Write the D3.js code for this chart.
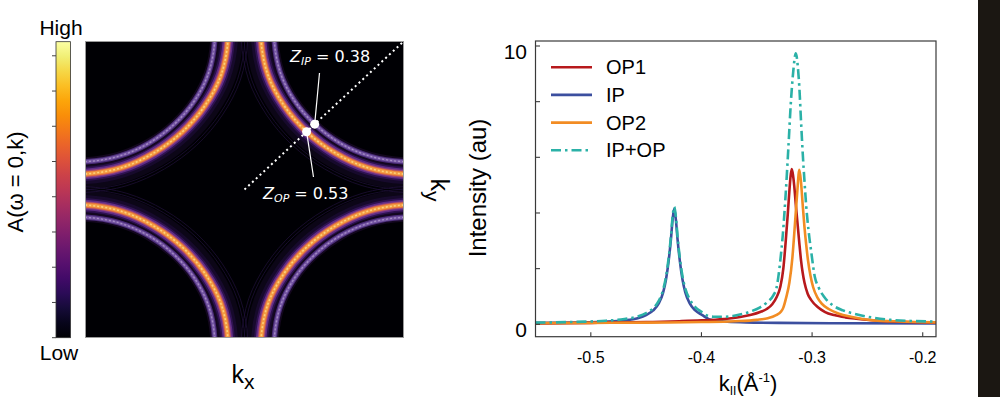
<!DOCTYPE html>
<html>
<head>
<meta charset="utf-8">
<script src="https://cdn.jsdelivr.net/npm/d3@7"></script>
<style>
  body { margin: 0; background: #fff; }
  svg { display: block; }
</style>
</head>
<body>
<div id="chart"></div>
<script>
// ---- left panel: A(w=0,k) map, Fermi surface arcs ----
// radius measured from each zone corner (k units, zone = [-1,1]) vs angle in degrees
const arcAngles = [-8, 0, 15, 30, 45, 60, 75, 90, 98];
const opRadius = [0.897, 0.895, 0.882, 0.867, 0.862, 0.867, 0.882, 0.895, 0.897];
const ipRadius = [0.815, 0.812, 0.803, 0.794, 0.790, 0.794, 0.803, 0.812, 0.815];
const tailRadiusA = [1.004, 1.002, 0.99, 0.976, 0.972, 0.976, 0.99, 1.002, 1.004];
const tailRadiusB = [1.022, 1.02, 1.008, 0.994, 0.99, 0.994, 1.008, 1.02, 1.022];
const corners = [[1, 1], [-1, 1], [-1, -1], [1, -1]];
const zMarks = [
  { name: 'IP', value: '0.38', band: 'ip' },
  { name: 'OP', value: '0.53', band: 'op' }
];
const colorbarTicks = [0, 1, 2, 3, 4, 5, 6, 7, 8];

// ---- right panel: intensity cut along the diagonal ----
const kIP = [-0.55, -0.52, -0.49, -0.4696, -0.4576, -0.4496, -0.4436, -0.4386, -0.4346, -0.4321, -0.4296, -0.4276, -0.4261, -0.4246,
  -0.4231, -0.4216, -0.4196, -0.4171, -0.4146, -0.4106, -0.4056, -0.3996, -0.3916, -0.3796, -0.36, -0.33, -0.28, -0.188];
const valIP = [0.05, 0.06, 0.09, 0.14, 0.22, 0.34, 0.50, 0.75, 1.15, 1.60, 2.30, 3.05, 3.75, 4.16,
  3.75, 3.05, 2.30, 1.60, 1.15, 0.75, 0.50, 0.34, 0.16, 0.10, 0.07, 0.05, 0.04, 0.035];

const kOP1 = [-0.55, -0.50, -0.45, -0.42, -0.40, -0.38, -0.365, -0.355, -0.347, -0.341, -0.336, -0.332, -0.3287, -0.326, -0.324, -0.322,
  -0.3205, -0.3195, -0.3184, -0.3172, -0.3162, -0.3145, -0.3131, -0.3115, -0.31, -0.3085, -0.3069, -0.304, -0.3006, -0.295, -0.2882,
  -0.28, -0.27, -0.2601, -0.24, -0.2134, -0.188];
const valOP1 = [0.03, 0.05, 0.08, 0.11, 0.14, 0.19, 0.26, 0.34, 0.44, 0.55, 0.72, 0.98, 1.35, 2.0, 2.9, 3.95,
  4.8, 5.3, 5.58, 5.35, 5.0, 4.2, 3.6, 2.9, 2.30, 1.85, 1.50, 1.10, 0.86, 0.62, 0.44,
  0.33, 0.25, 0.20, 0.13, 0.08, 0.06];

const kOP2 = [-0.55, -0.50, -0.45, -0.40, -0.37, -0.35, -0.34, -0.333, -0.328, -0.326, -0.3235, -0.3205, -0.3178, -0.3155, -0.3135,
  -0.3115, -0.31, -0.3085, -0.3069, -0.3053, -0.3037, -0.3015, -0.2991, -0.295, -0.2913, -0.285, -0.2757, -0.265, -0.2445, -0.22, -0.188];
const valOP2 = [0.04, 0.05, 0.06, 0.08, 0.11, 0.16, 0.22, 0.32, 0.46, 0.60, 0.95, 1.5, 2.4, 3.6, 4.7,
  5.55, 5.1, 4.3, 3.5, 2.85, 2.3, 1.75, 1.34, 0.95, 0.74, 0.55, 0.38, 0.27, 0.14, 0.10, 0.07];

const kSum = [-0.55, -0.52, -0.49, -0.4696, -0.4576, -0.4496, -0.4436, -0.4386, -0.4346, -0.4321, -0.4296, -0.4276, -0.4261, -0.4246,
  -0.4231, -0.4216, -0.4196, -0.4171, -0.4146, -0.4106, -0.4056, -0.3996, -0.395, -0.388, -0.38, -0.3715, -0.3565, -0.3474, -0.341,
  -0.3349, -0.3322, -0.3287, -0.3265, -0.324, -0.3215, -0.3193, -0.317, -0.3147, -0.313, -0.3115, -0.31, -0.3084, -0.3068, -0.3053,
  -0.303, -0.3006, -0.2975, -0.2944, -0.289, -0.2819, -0.272, -0.2601, -0.245, -0.229, -0.21, -0.188];
const valSum = [0.06, 0.08, 0.12, 0.19, 0.28, 0.41, 0.58, 0.84, 1.25, 1.70, 2.40, 3.15, 3.85, 4.22,
  3.85, 3.15, 2.40, 1.72, 1.28, 0.90, 0.62, 0.44, 0.32, 0.27, 0.27, 0.30, 0.45, 0.60, 0.78,
  1.05, 1.3, 2.3, 3.2, 4.6, 6.3, 7.9, 9.1, 9.74, 9.3, 8.5, 7.3, 6.1, 5.1, 4.25,
  3.3, 2.55, 1.7, 1.35, 0.98, 0.70, 0.50, 0.36, 0.24, 0.16, 0.12, 0.10];

const seriesNames = ['OP1', 'IP', 'OP2', 'IP+OP'];
const xTicks = [-0.5, -0.4, -0.3, -0.2];
const yTicks = [0, 2, 4, 6, 8, 10];
const yTickLabels = [0, 10];

const W = 1000, H = 397;
const sans = '"Liberation Sans", Arial, sans-serif';
const svg = d3.select('#chart').append('svg')
  .attr('width', W).attr('height', H)
  .style('font-family', sans);

// dark strip at the right edge of the figure
svg.append('rect').attr('x', 978).attr('y', 0).attr('width', 22).attr('height', H).attr('fill', '#1b1712');

// ================= left panel =================
const map = { left: 85.5, right: 403.5, top: 41.5, bottom: 337.5 };
const kx = d3.scaleLinear([-1, 1], [map.left, map.right]);
const ky = d3.scaleLinear([-1, 1], [map.bottom, map.top]);

svg.append('clipPath').attr('id', 'mapclip')
  .append('rect').attr('x', map.left).attr('y', map.top)
  .attr('width', map.right - map.left).attr('height', map.bottom - map.top);

svg.append('rect')
  .attr('x', map.left).attr('y', map.top)
  .attr('width', map.right - map.left).attr('height', map.bottom - map.top)
  .attr('fill', '#000004');

const gMap = svg.append('g').attr('clip-path', 'url(#mapclip)');

const arcPoints = (radii, c) => arcAngles.map((a, i) => {
  const t = a * Math.PI / 180;
  return [c[0] * (1 - radii[i] * Math.cos(t)), c[1] * (1 - radii[i] * Math.sin(t))];
});
const arcLine = d3.line().x(d => kx(d[0])).y(d => ky(d[1])).curve(d3.curveCatmullRom);

// layered strokes give the glow of each band
const bandLayers = {
  tail: [[1, '#1f1038', null, 0.75]],
  ip: [[9, '#13071f', null, 1], [5.5, '#4a2c78', null, 1], [3.2, '#7556a3', null, 1], [1.3, '#a68cc6', '2,2', 1]],
  op: [[30, '#0c0617', null, 1], [20, '#170a2c', null, 1], [14, '#2e1250', null, 1], [10.5, '#5f2c86', null, 1],
       [7.5, '#96457f', null, 1], [5.5, '#df6d3d', null, 1], [3.6, '#f39b42', null, 1], [1.6, '#fcd07a', '2,2', 1]]
};
const bandRadius = { tailA: tailRadiusA, tailB: tailRadiusB, ip: ipRadius, op: opRadius };

[['op', 'op'], ['tailA', 'tail'], ['tailB', 'tail'], ['ip', 'ip']].forEach(([band, style]) => {
  bandLayers[style].forEach(([w, col, dash, op]) => {
    corners.forEach(c => {
      gMap.append('path')
        .attr('d', arcLine(arcPoints(bandRadius[band], c)))
        .attr('fill', 'none')
        .attr('stroke', col)
        .attr('stroke-width', w)
        .attr('stroke-opacity', op)
        .attr('stroke-dasharray', dash);
    });
  });
});

svg.append('rect')
  .attr('x', map.left).attr('y', map.top)
  .attr('width', map.right - map.left).attr('height', map.bottom - map.top)
  .attr('fill', 'none').attr('stroke', '#9a9a9a').attr('stroke-width', 1);

// diagonal cut
svg.append('line')
  .attr('x1', kx(0)).attr('y1', ky(0)).attr('x2', kx(1)).attr('y2', ky(1))
  .attr('stroke', '#fff').attr('stroke-width', 2).attr('stroke-dasharray', '2,3.2');

// quasiparticle weights at the crossings
const diagPoint = band => {
  const r = bandRadius[band][arcAngles.indexOf(45)];
  const u = 1 - r * Math.SQRT1_2;
  return [kx(u), ky(u)];
};
const zText = {
  ip: { x: 290, y: 62, lx: 319.5, ly: 73 },
  op: { x: 263, y: 198.5, lx: 313.5, ly: 177 }
};
zMarks.forEach(m => {
  const [px, py] = diagPoint(m.band);
  const t = zText[m.band];
  svg.append('line').attr('x1', px).attr('y1', py).attr('x2', t.lx).attr('y2', t.ly)
    .attr('stroke', '#fff').attr('stroke-width', 1.2);
  svg.append('circle').attr('cx', px).attr('cy', py).attr('r', 4.5).attr('fill', '#fff');
  const txt = svg.append('text').attr('x', t.x).attr('y', t.y)
    .attr('fill', '#fff').attr('font-size', 16).attr('font-family', '"DejaVu Sans", sans-serif');
  txt.append('tspan').attr('font-style', 'italic').text('Z');
  txt.append('tspan').attr('font-style', 'italic').attr('font-size', 11).attr('dy', 3).text(m.name);
  txt.append('tspan').attr('dy', -3).text(' = ' + m.value);
});

// colorbar
const cb = { x: 56, w: 14.5, top: 41.7, bottom: 337.7 };
const cbScale = d3.scaleLinear([0, 8.4], [cb.bottom, cb.top]);
const grad = svg.append('defs').append('linearGradient').attr('id', 'inferno')
  .attr('x1', 0).attr('y1', 1).attr('x2', 0).attr('y2', 0);
d3.range(0, 1.0001, 0.05).forEach(t => {
  grad.append('stop').attr('offset', t).attr('stop-color', d3.interpolateInferno(t));
});
svg.append('rect').attr('x', cb.x).attr('y', cb.top).attr('width', cb.w).attr('height', cb.bottom - cb.top)
  .attr('fill', 'url(#inferno)').attr('stroke', '#333').attr('stroke-width', 0.8);
svg.append('g').selectAll('line').data(colorbarTicks).join('line')
  .attr('x1', cb.x - 4).attr('x2', cb.x).attr('y1', d => cbScale(d)).attr('y2', d => cbScale(d))
  .attr('stroke', '#444').attr('stroke-width', 1);

svg.append('text').attr('x', 61).attr('y', 35).attr('text-anchor', 'middle').attr('font-size', 21).text('High');
svg.append('text').attr('x', 59).attr('y', 360).attr('text-anchor', 'middle').attr('font-size', 21).text('Low');
svg.append('text').attr('transform', 'translate(23,182) rotate(-90)').attr('text-anchor', 'middle')
  .attr('font-size', 22).text('A(ω = 0,k)');

const kxLabel = svg.append('text').attr('x', 243).attr('y', 383).attr('text-anchor', 'middle').attr('font-size', 25);
kxLabel.append('tspan').text('k');
kxLabel.append('tspan').attr('font-size', 21).attr('dy', 6).text('x');

const kyLabel = svg.append('text').attr('transform', 'translate(431,190) rotate(90)').attr('text-anchor', 'middle').attr('font-size', 25);
kyLabel.append('tspan').text('k');
kyLabel.append('tspan').attr('font-size', 21).attr('dy', 6).text('y');

// ================= right panel =================
const plot = { left: 535.5, right: 936, top: 41, bottom: 336.7 };
const x = d3.scaleLinear([-0.55, -0.188], [plot.left, plot.right]);
const y = d3.scaleLinear([0, 10], [324.3, 46]);

svg.append('clipPath').attr('id', 'plotclip')
  .append('rect').attr('x', plot.left).attr('y', plot.top)
  .attr('width', plot.right - plot.left).attr('height', plot.bottom - plot.top);

const series = [
  { name: 'IP', k: kIP, v: valIP, color: '#3c4f9f', dash: null },
  { name: 'OP1', k: kOP1, v: valOP1, color: '#b7191c', dash: null },
  { name: 'OP2', k: kOP2, v: valOP2, color: '#f28c23', dash: null },
  { name: 'IP+OP', k: kSum, v: valSum, color: '#2bb1a7', dash: '10,4,2.5,4' }
];
const line = d3.line().x(d => x(d[0])).y(d => y(d[1])).curve(d3.curveMonotoneX);
const gLines = svg.append('g').attr('clip-path', 'url(#plotclip)');
series.forEach(s => {
  gLines.append('path')
    .attr('d', line(s.k.map((k, i) => [k, s.v[i]])))
    .attr('fill', 'none')
    .attr('stroke', s.color)
    .attr('stroke-width', 2.6)
    .attr('stroke-linejoin', 'round')
    .attr('stroke-dasharray', s.dash);
});

// frame, inward ticks
svg.append('rect').attr('x', plot.left).attr('y', plot.top)
  .attr('width', plot.right - plot.left).attr('height', plot.bottom - plot.top)
  .attr('fill', 'none').attr('stroke', '#3a3a3a').attr('stroke-width', 1.2);
svg.append('g').selectAll('line').data(xTicks).join('line')
  .attr('x1', d => x(d)).attr('x2', d => x(d)).attr('y1', plot.bottom).attr('y2', plot.bottom - 4.5)
  .attr('stroke', '#3a3a3a').attr('stroke-width', 1.1);
svg.append('g').selectAll('line').data(yTicks).join('line')
  .attr('x1', plot.left).attr('x2', plot.left + 4.5).attr('y1', d => y(d)).attr('y2', d => y(d))
  .attr('stroke', '#3a3a3a').attr('stroke-width', 1.1);

svg.append('g').selectAll('text').data(xTicks).join('text')
  .attr('x', d => x(d)).attr('y', 363).attr('text-anchor', 'middle').attr('font-size', 16)
  .text(d => d3.format('.1f')(d).replace('−', '-'));
svg.append('g').selectAll('text').data(yTickLabels).join('text')
  .attr('x', 527).attr('y', d => y(d) + 12.5).attr('text-anchor', 'end').attr('font-size', 21)
  .text(d => d);

svg.append('text').attr('transform', 'translate(486,188) rotate(-90)').attr('text-anchor', 'middle')
  .attr('font-size', 24).text('Intensity (au)');

const xl = svg.append('text').attr('x', 748).attr('y', 391).attr('text-anchor', 'middle').attr('font-size', 22);
xl.append('tspan').text('k');
xl.append('tspan').attr('font-size', 12).attr('dy', 4).text('II');
xl.append('tspan').attr('dy', -4).text('(Å');
xl.append('tspan').attr('font-size', 13).attr('dy', -9).text('-1');
xl.append('tspan').attr('dy', 9).text(')');

// legend
const legendOrder = seriesNames.map(n => series.find(s => s.name === n));
const legend = svg.append('g');
legendOrder.forEach((s, i) => {
  const ly = 67.2 + i * 27.7;
  legend.append('line').attr('x1', 551).attr('x2', 592).attr('y1', ly).attr('y2', ly)
    .attr('stroke', s.color).attr('stroke-width', 2.6).attr('stroke-dasharray', s.dash);
  legend.append('text').attr('x', 606).attr('y', ly + 7).attr('font-size', 20).text(s.name);
});
</script>
</body>
</html>
